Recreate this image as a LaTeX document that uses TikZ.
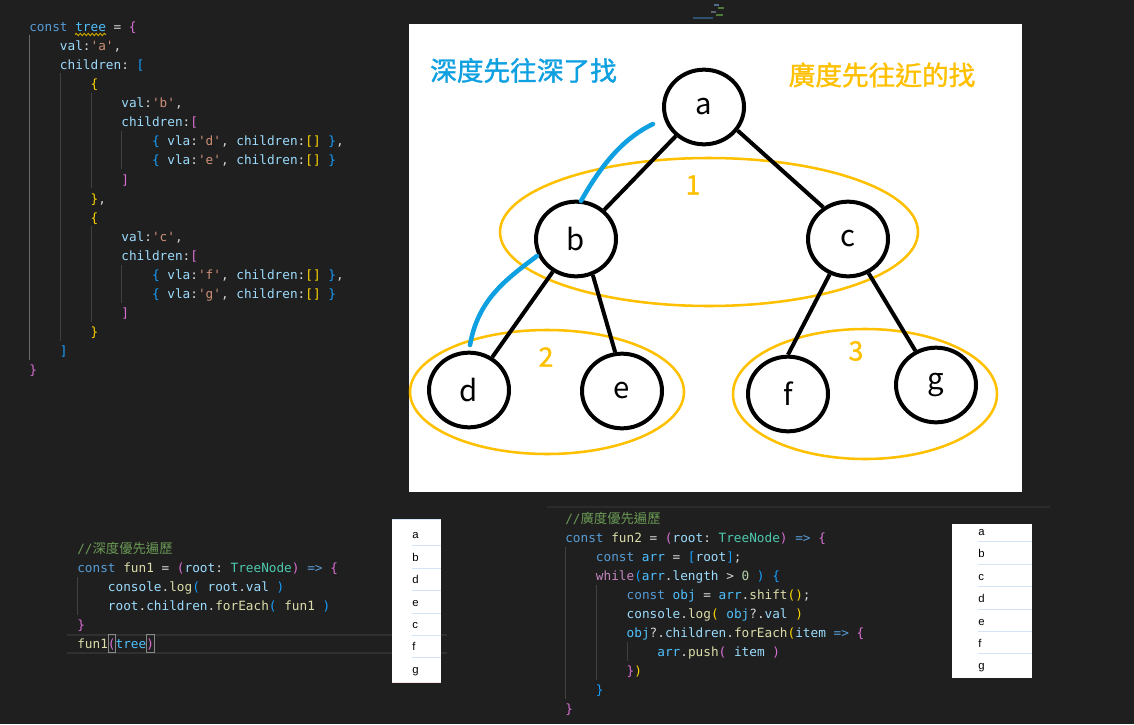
\documentclass[tikz,border=0pt]{standalone}
\usepackage{fontspec}
\setmonofont{DejaVu Sans Mono}
\newfontfamily\cjk{Noto Sans CJK TC}
\newfontfamily\cjkhead{Noto Sans CJK TC}[FakeBold=1.2]
\newfontfamily\uifont{Liberation Sans}
\usepackage{xcolor}
\usetikzlibrary{shapes.geometric}
\usetikzlibrary{decorations.pathmorphing}
\definecolor{bg}{HTML}{1F1F1F}
\definecolor{punc}{HTML}{D4D4D4}
\definecolor{kw}{HTML}{569CD6}
\definecolor{cvar}{HTML}{4FC1FF}
\definecolor{prop}{HTML}{9CDCFE}
\definecolor{str}{HTML}{CE9178}
\definecolor{fn}{HTML}{DCDCAA}
\definecolor{typ}{HTML}{4EC9B0}
\definecolor{ctrl}{HTML}{C586C0}
\definecolor{num}{HTML}{B5CEA8}
\definecolor{cmt}{HTML}{6A9955}
\definecolor{brA}{HTML}{DA70D6}
\definecolor{brB}{HTML}{179FFF}
\definecolor{brC}{HTML}{FFD700}
\definecolor{guidegray}{HTML}{404040}
\definecolor{guideact}{HTML}{6A6A6A}
\definecolor{squig}{HTML}{CCA700}
\definecolor{grpyellow}{HTML}{FFC000}
\definecolor{trblue}{HTML}{0EA0E0}
\definecolor{popsep}{HTML}{D6E4F7}
\definecolor{linebox}{HTML}{303030}
\definecolor{matchbox}{HTML}{888888}
\newcommand{\tk}[2]{\textcolor{#1}{#2}}
\newcommand{\cmtcjk}[1]{{\cjk\fontsize{10}{12}\selectfont #1}}

\begin{document}
\begin{tikzpicture}[x=0.75pt,y=0.75pt,yscale=-1,xscale=1,
	codeline/.style={anchor=base west,inner sep=0pt,text=punc,font=\ttfamily\fontsize{9.55}{11}\selectfont},
	guide/.style={draw=guidegray,line width=0.75pt},
	tnode/.style={ellipse,draw=black,line width=3pt,minimum width=60pt,minimum height=56pt,inner sep=0pt,font=\cjk\fontsize{22}{26}\selectfont},
	branch/.style={draw=black,line width=3pt},
	ring/.style={draw=grpyellow,line width=1.9pt},
	trace/.style={draw=trblue,line width=3.4pt,line cap=round},
	heading/.style={inner sep=0pt,font=\cjkhead\fontsize{20}{24}\selectfont},
	popitem/.style={anchor=base west,inner sep=0pt,text=black,font=\uifont\fontsize{8.5}{10}\selectfont},
	popline/.style={draw=popsep,line width=0.75pt}]
	\useasboundingbox (0,0) rectangle (1134,724);
	%Shape: Rectangle (editor background)
	\fill [bg] (0,0) rectangle (1134,724);
	%Straight Lines (minimap)
	\draw [color={rgb, 255:red, 47; green, 79; blue, 111 },line width=1.2pt] (693,18) -- (713,18) ;
	\draw [color={rgb, 255:red, 90; green, 100; blue, 110 },line width=1pt] (711,12) -- (716,12) ;
	\draw [color={rgb, 255:red, 80; green, 110; blue, 140 },line width=1pt] (714,5) -- (719,5) ;
	\draw [color={rgb, 255:red, 78; green, 122; blue, 58 },line width=1pt] (718,8) -- (724,8) ;
	\draw [color={rgb, 255:red, 78; green, 122; blue, 58 },line width=1pt] (716,15) -- (723,15) ;

	%Straight Lines (indent guides)
	\draw [guide,draw=guideact] (29.5,35.5) -- (29.5,359.5) ;
	\draw [guide] (60,73.5) -- (60,340.5) ;
	\draw [guide] (91,92.5) -- (91,187.5) ;
	\draw [guide] (91,226) -- (91,321.5) ;
	\draw [guide] (121.5,130.5) -- (121.5,168.5) ;
	\draw [guide] (121.5,264.5) -- (121.5,302.5) ;
	\draw [guide] (77.5,576.5) -- (77.5,614.5) ;
	\draw [guide] (565.5,547) -- (565.5,699) ;
	\draw [guide] (596,585) -- (596,680) ;
	\draw [guide] (627,642) -- (627,661) ;
	%Straight Lines (separator)
	\draw [color={rgb, 255:red, 43; green, 43; blue, 43 },line width=1pt] (547,507) -- (1050,507) ;
	%Straight Lines (current line)
	\draw [linebox,line width=1.5pt] (67,634.5) -- (447,634.5) ;
	\draw [linebox,line width=1.5pt] (67,652.5) -- (447,652.5) ;
	%Shape: Rectangle (bracket match)
	\draw [matchbox,line width=0.75pt] (108,634) rectangle (115.5,652) ;
	\draw [matchbox,line width=0.75pt] (146.3,634) rectangle (154,652) ;

	% Text Node
	\draw (29,31.5) node [codeline] (t1) {\tk{kw}{const} \tk{cvar}{tree} = \tk{brA}{\{}};
	%Shape: Wave
	\draw [squig,line width=0.75pt,decorate,decoration={snake,amplitude=0.8pt,segment length=3pt}] (75,34.5) -- (106,34.5) ;
	% Text Node
	\draw (59.7,50.6) node [codeline] (t2) {\tk{prop}{val}:\tk{str}{'a'},};
	% Text Node
	\draw (59.7,69.6) node [codeline] (t3) {\tk{prop}{children}: \tk{brB}{[}};
	% Text Node
	\draw (90.4,88.7) node [codeline] (t4) {\tk{brC}{\{}};
	% Text Node
	\draw (121.1,107.7) node [codeline] (t5) {\tk{prop}{val}:\tk{str}{'b'},};
	% Text Node
	\draw (121.1,126.8) node [codeline] (t6) {\tk{prop}{children}:\tk{brA}{[}};
	% Text Node
	\draw (151.8,145.9) node [codeline] (t7) {\tk{brB}{\{} \tk{prop}{vla}:\tk{str}{'d'}, \tk{prop}{children}:\tk{brC}{[]} \tk{brB}{\}},};
	% Text Node
	\draw (151.8,164.9) node [codeline] (t8) {\tk{brB}{\{} \tk{prop}{vla}:\tk{str}{'e'}, \tk{prop}{children}:\tk{brC}{[]} \tk{brB}{\}}};
	% Text Node
	\draw (121.1,184) node [codeline] (t9) {\tk{brA}{]}};
	% Text Node
	\draw (90.4,203) node [codeline] (t10) {\tk{brC}{\}},};
	% Text Node
	\draw (90.4,222.1) node [codeline] (t11) {\tk{brC}{\{}};
	% Text Node
	\draw (121.1,241.2) node [codeline] (t12) {\tk{prop}{val}:\tk{str}{'c'},};
	% Text Node
	\draw (121.1,260.2) node [codeline] (t13) {\tk{prop}{children}:\tk{brA}{[}};
	% Text Node
	\draw (151.8,279.3) node [codeline] (t14) {\tk{brB}{\{} \tk{prop}{vla}:\tk{str}{'f'}, \tk{prop}{children}:\tk{brC}{[]} \tk{brB}{\}},};
	% Text Node
	\draw (151.8,298.3) node [codeline] (t15) {\tk{brB}{\{} \tk{prop}{vla}:\tk{str}{'g'}, \tk{prop}{children}:\tk{brC}{[]} \tk{brB}{\}}};
	% Text Node
	\draw (121.1,317.4) node [codeline] (t16) {\tk{brA}{]}};
	% Text Node
	\draw (90.4,336.5) node [codeline] (t17) {\tk{brC}{\}}};
	% Text Node
	\draw (59.7,355.5) node [codeline] (t18) {\tk{brB}{]}};
	% Text Node
	\draw (29,374.6) node [codeline] (t19) {\tk{brA}{\}}};

	% Text Node
	\draw (77,553) node [codeline] (d1) {\tk{cmt}{//\cmtcjk{深度優先遍歷}}};
	% Text Node
	\draw (77,572) node [codeline] (d2) {\tk{kw}{const} \tk{fn}{fun1} = \tk{brA}{(}\tk{prop}{root}: \tk{typ}{TreeNode}\tk{brA}{)} \tk{kw}{=>} \tk{brA}{\{}};
	% Text Node
	\draw (107.7,591) node [codeline] (d3) {\tk{prop}{console}.\tk{fn}{log}\tk{brB}{(} \tk{prop}{root}.\tk{prop}{val} \tk{brB}{)}};
	% Text Node
	\draw (107.7,610) node [codeline] (d4) {\tk{prop}{root}.\tk{prop}{children}.\tk{fn}{forEach}\tk{brB}{(} \tk{fn}{fun1} \tk{brB}{)}};
	% Text Node
	\draw (77,629) node [codeline] (d5) {\tk{brA}{\}}};
	% Text Node
	\draw (77,648) node [codeline] (d6) {\tk{fn}{fun1}\tk{brA}{(}\tk{cvar}{tree}\tk{brA}{)}};

	% Text Node
	\draw (565,523) node [codeline] (w1) {\tk{cmt}{//\cmtcjk{廣度優先遍歷}}};
	% Text Node
	\draw (565,542) node [codeline] (w2) {\tk{kw}{const} \tk{fn}{fun2} = \tk{brA}{(}\tk{prop}{root}: \tk{typ}{TreeNode}\tk{brA}{)} \tk{kw}{=>} \tk{brA}{\{}};
	% Text Node
	\draw (595.7,561) node [codeline] (w3) {\tk{kw}{const} \tk{cvar}{arr} = \tk{brB}{[}\tk{prop}{root}\tk{brB}{]};};
	% Text Node
	\draw (595.7,580) node [codeline] (w4) {\tk{ctrl}{while}\tk{brB}{(}\tk{cvar}{arr}.\tk{prop}{length} > \tk{num}{0} \tk{brB}{)} \tk{brB}{\{}};
	% Text Node
	\draw (626.4,599) node [codeline] (w5) {\tk{kw}{const} \tk{cvar}{obj} = \tk{cvar}{arr}.\tk{fn}{shift}\tk{brC}{()};};
	% Text Node
	\draw (626.4,618) node [codeline] (w6) {\tk{prop}{console}.\tk{fn}{log}\tk{brC}{(} \tk{cvar}{obj}?.\tk{prop}{val} \tk{brC}{)}};
	% Text Node
	\draw (626.4,637) node [codeline] (w7) {\tk{cvar}{obj}?.\tk{prop}{children}.\tk{fn}{forEach}\tk{brC}{(}\tk{prop}{item} \tk{kw}{=>} \tk{brA}{\{}};
	% Text Node
	\draw (657.1,656) node [codeline] (w8) {\tk{cvar}{arr}.\tk{fn}{push}\tk{brA}{(} \tk{prop}{item} \tk{brA}{)}};
	% Text Node
	\draw (626.4,675) node [codeline] (w9) {\tk{brA}{\}}\tk{brC}{)}};
	% Text Node
	\draw (595.7,694) node [codeline] (w10) {\tk{brB}{\}}};
	% Text Node
	\draw (565,713) node [codeline] (w11) {\tk{brA}{\}}};

	%Shape: Rectangle (output of fun1)
	\fill [white] (392,519) rectangle (441,683) ;
	\draw [popline] (392,519.5) -- (441,519.5) ;
	\draw [color={rgb, 255:red, 246; green, 224; blue, 224 },line width=0.75pt] (392,682.5) -- (441,682.5) ;
	\draw [popline] (412,545) -- (441,545) ;
	\draw [popline] (412,568) -- (441,568) ;
	\draw [popline] (412,590) -- (441,590) ;
	\draw [popline] (412,613) -- (441,613) ;
	\draw [popline] (412,635) -- (441,635) ;
	\draw [popline] (412,657) -- (441,657) ;
	\draw (412,538.5) node [popitem] (p1) {a};
	\draw (412,561) node [popitem] (p2) {b};
	\draw (412,583.5) node [popitem] (p3) {d};
	\draw (412,606) node [popitem] (p4) {e};
	\draw (412,628) node [popitem] (p5) {c};
	\draw (412,650.5) node [popitem] (p6) {f};
	\draw (412,673) node [popitem] (p7) {g};

	%Shape: Rectangle (output of fun2)
	\fill [white] (952,524) rectangle (1032,678) ;
	\draw [popline] (978,541) -- (1032,541) ;
	\draw [popline] (978,564) -- (1032,564) ;
	\draw [popline] (978,586) -- (1032,586) ;
	\draw [popline] (978,609) -- (1032,609) ;
	\draw [popline] (978,631) -- (1032,631) ;
	\draw [popline] (978,653) -- (1032,653) ;
	\draw (978,535) node [popitem] (q1) {a};
	\draw (978,557) node [popitem] (q2) {b};
	\draw (978,580) node [popitem] (q3) {c};
	\draw (978,602) node [popitem] (q4) {d};
	\draw (978,625) node [popitem] (q5) {e};
	\draw (978,647) node [popitem] (q6) {f};
	\draw (978,669) node [popitem] (q7) {g};

	%Shape: Rectangle (drawing board)
	\fill [white] (409,24) rectangle (1022,492) ;
	% Text Node
	\draw (523.5,70.5) node [heading,text=trblue] (dfs) {深度先往深了找};
	% Text Node
	\draw (882,75) node [heading,text=grpyellow] (bfs) {廣度先往近的找};

	%Shape: Ellipse (levels)
	\draw [ring] (709,232) ellipse [x radius=209,y radius=74] ;
	\draw [ring] (547,392) ellipse [x radius=137,y radius=62] ;
	\draw [ring] (865,394) ellipse [x radius=132,y radius=65] ;
	% Text Node
	\draw (693,185) node [heading,text=grpyellow] (lv1) {1};
	% Text Node
	\draw (546,357) node [heading,text=grpyellow] (lv2) {2};
	% Text Node
	\draw (856,351) node [heading,text=grpyellow] (lv3) {3};

	%Shape: Circle (tree nodes)
	\node [tnode] (a) at (704,107) {a};
	\node [tnode] (b) at (576,239) {b};
	\node [tnode] (c) at (848,239) {c};
	\node [tnode] (d) at (469,390) {d};
	\node [tnode] (e) at (622,391) {e};
	\node [tnode] (f) at (788,394) {f};
	\node [tnode] (g) at (936,385) {g};
	%Straight Lines
	\draw [branch] (a) -- (b) ;
	\draw [branch] (a.-35) -- (c.128) ;
	\draw [branch] (b) -- (d) ;
	\draw [branch] (b.-65) -- (e.100) ;
	\draw [branch] (c) -- (f.north) ;
	\draw [branch] (c) -- (g) ;

	%Curve Lines (depth first path)
	\draw [trace] (653,124) .. controls (628,136) and (605,158) .. (581,201) ;
	\draw [trace] (537,256) .. controls (505,280) and (478,300) .. (470,345) ;
\end{tikzpicture}
\end{document}
